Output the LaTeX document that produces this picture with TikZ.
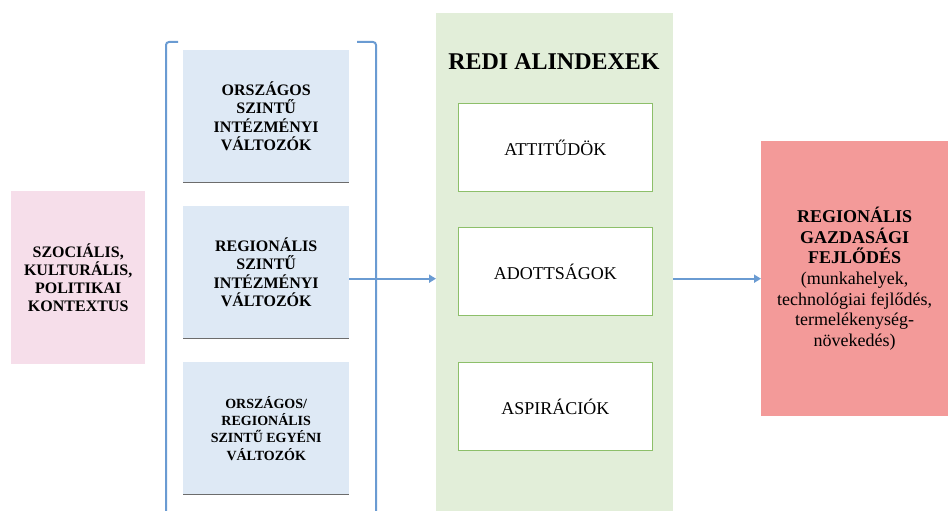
\documentclass[tikz,border=0pt]{standalone}
\usepackage{fontspec}
\setmainfont{Liberation Serif}
\usetikzlibrary{arrows.meta}
\definecolor{pinkbg}{HTML}{F6DEEA}
\definecolor{bluebg}{HTML}{DEE9F5}
\definecolor{greenbg}{HTML}{E2EED9}
\definecolor{greenln}{HTML}{8DBF6A}
\definecolor{redbg}{HTML}{F39A99}
\definecolor{arrowc}{HTML}{6A9BD2}
\tikzset{
  box/.style={rectangle, inner sep=0pt, align=center, anchor=north west},
  bluebox/.style={box, fill=bluebg, minimum width=166pt, minimum height=132pt, font=\bfseries\fontsize{16}{18.3}\selectfont},
  whitebox/.style={box, fill=white, draw=greenln, line width=0.9pt, minimum width=194pt, minimum height=88pt, font=\fontsize{18}{20}\selectfont},
  conn/.style={draw=arrowc, line width=2.2pt, -{Triangle[length=7pt,width=8pt]}},
  brk/.style={draw=arrowc, line width=2pt, rounded corners=3pt},
  shadowln/.style={draw=gray!85!black, line width=0.9pt}
}
\begin{document}
\begin{tikzpicture}[x=1pt,y=-1pt]
\useasboundingbox (0,0) rectangle (948,511);
% left context box
\node[box, fill=pinkbg, minimum width=134pt, minimum height=173pt, font=\bfseries\fontsize{16}{18.3}\selectfont] (ctx) at (11,191) {};
\node[align=center, font=\bfseries\fontsize{16}{18.3}\selectfont] (ctxt) at (ctx.center) {SZOCIÁLIS,\\KULTURÁLIS,\\POLITIKAI\\KONTEXTUS};
% blue boxes
\node[bluebox] (b1) at (183,50) {};
\node[align=center, font=\bfseries\fontsize{16}{18.3}\selectfont] (b1t) at (b1.center) {ORSZÁGOS\\SZINTŰ\\INTÉZMÉNYI\\VÁLTOZÓK};
\node[bluebox] (b2) at (183,206) {};
\node[align=center, font=\bfseries\fontsize{16}{18.3}\selectfont] (b2t) at (b2.center) {REGIONÁLIS\\SZINTŰ\\INTÉZMÉNYI\\VÁLTOZÓK};
\node[bluebox] (b3) at (183,362) {};
\node[align=center, font=\bfseries\fontsize{14}{17.3}\selectfont] (b3t) at (b3.center) {ORSZÁGOS/\\REGIONÁLIS\\SZINTŰ EGYÉNI\\VÁLTOZÓK};
\draw[shadowln] (b1.south west) -- (b1.south east);
\draw[shadowln] (b2.south west) -- (b2.south east);
\draw[shadowln] (b3.south west) -- (b3.south east);
% bracket
\coordinate (bl1) at (178,42);
\coordinate (bl2) at (166,42);
\coordinate (bl3) at (166,512);
\coordinate (br1) at (357,42);
\coordinate (br2) at (376,42);
\coordinate (br3) at (376,512);
\draw[brk] (bl1) -- (bl2) -- (bl3);
\draw[brk] (br1) -- (br2) -- (br3);
% green panel
\node[box, fill=greenbg, minimum width=237pt, minimum height=499pt] (gr) at (436,13) {};
\node[font=\bfseries\fontsize{24}{28}\selectfont] (title) at (554,62) {REDI ALINDEXEK};
\node[whitebox] (w1) at (458,103) {};
\node[font=\fontsize{18}{20}\selectfont] (w1t) at (w1.center) {ATTITŰDÖK};
\node[whitebox] (w2) at (458,227) {};
\node[font=\fontsize{18}{20}\selectfont] (w2t) at (w2.center) {ADOTTSÁGOK};
\node[whitebox] (w3) at (458,362) {};
\node[font=\fontsize{18}{20}\selectfont] (w3t) at (w3.center) {ASPIRÁCIÓK};
% red box
\node[box, fill=redbg, minimum width=187pt, minimum height=275pt] (rd) at (761,141) {};
\node[align=center, font=\fontsize{18}{20.7}\selectfont] (rdt) at (rd.center) {\textbf{REGIONÁLIS}\\\textbf{GAZDASÁGI}\\\textbf{FEJLŐDÉS}\\(munkahelyek,\\technológiai fejlődés,\\termelékenység-\\növekedés)};
% arrows
\draw[conn] (b2.east |- rd.west) -- (gr.west |- rd.west);
\draw[conn] (gr.east |- rd.west) -- (rd.west);
\end{tikzpicture}
\end{document}
